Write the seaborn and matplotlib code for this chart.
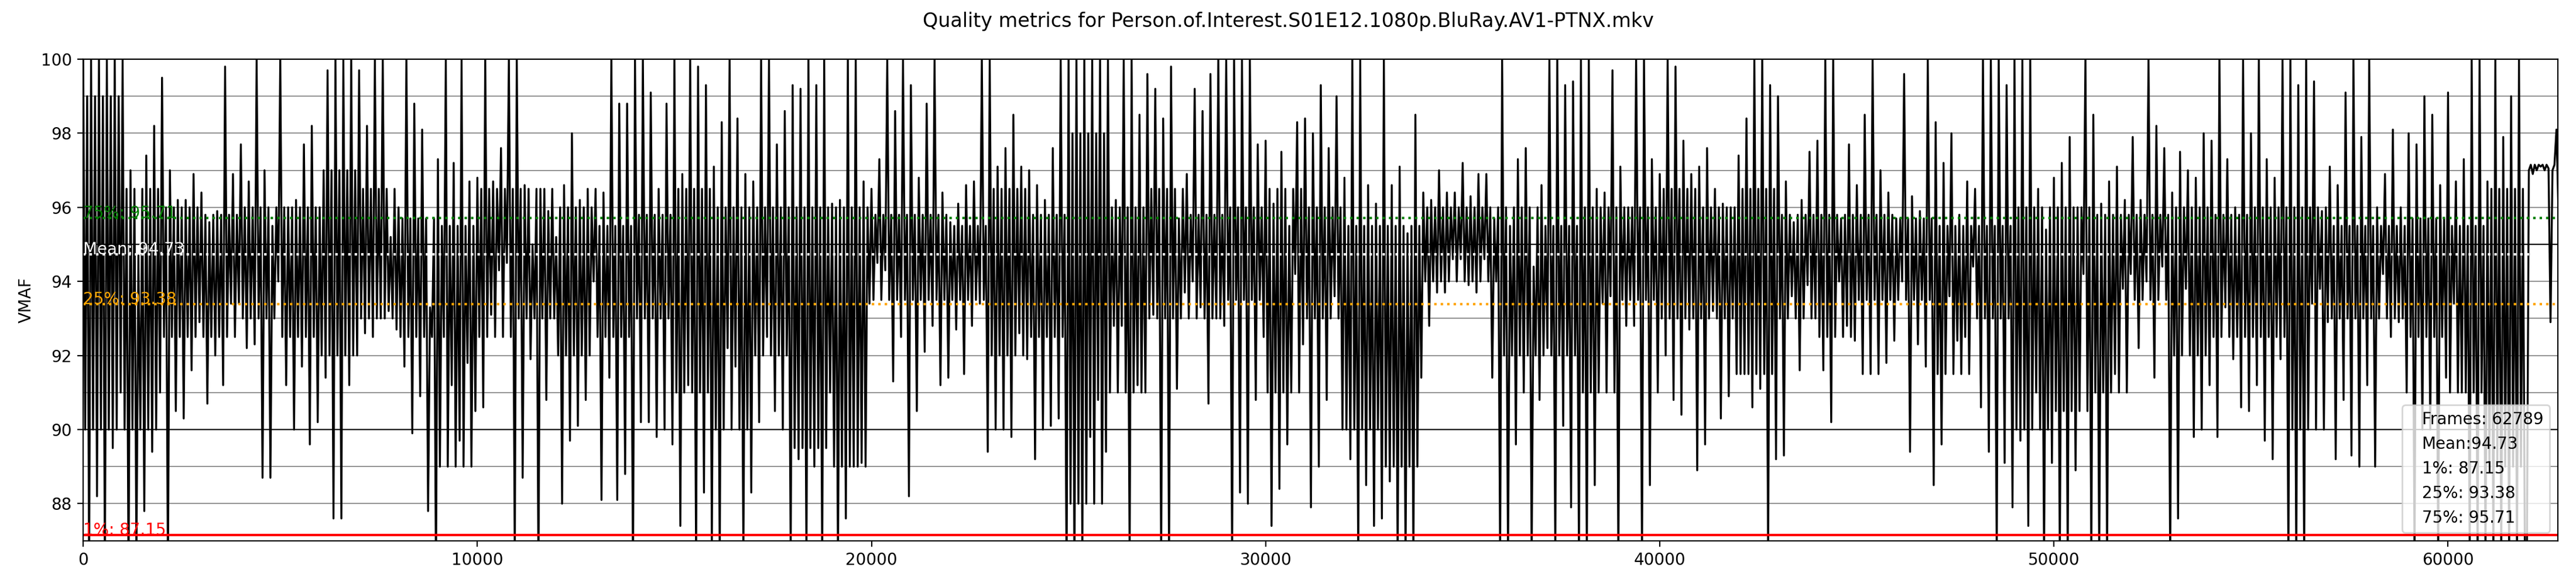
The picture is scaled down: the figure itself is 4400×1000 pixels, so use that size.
import numpy as np
import pandas as pd
import seaborn as sns
import matplotlib
matplotlib.use('Agg')
import matplotlib.pyplot as plt
from matplotlib.ticker import MultipleLocator

# Dati
file_name = "Person.of.Interest.S01E12.1080p.BluRay.AV1-PTNX.mkv"
total_frames = 62789
bin_frames = 200    # ogni blocco di 200 frame: picco e minimo
chunk_frames = 1000  # fascia "densa" letta ogni 1000 frame

# picco / minimo di ogni blocco da 200 frame, per tratti di ~8000 frame
vmaf_0k = [100, 86, 100, 88.2, 100, 86, 100, 89.5, 100, 91, 100, 86, 97, 86.5, 94.7, 87.8, 97.4, 89.4, 98.2, 91,
           99.5, 86, 97, 90.5, 96.2, 90.3, 96.2, 91.6, 96.9, 92.9, 96.4, 90.7, 95.6, 92, 95.9, 91.2, 99.8, 93.4, 96.9, 93.4,
           97.7, 92.2, 96.7, 92.3, 100, 88.7, 97, 88.7, 95.5, 94, 100, 91.2, 96, 90, 96.2, 91.7, 97.7, 89.6, 98.2, 90.2,
           96, 91.4, 99.7, 87.6, 100, 87.6, 100, 91.2, 100, 92, 99.7, 92.6, 98.2, 92.5, 100, 93, 100, 93.2, 95.2, 92.7]
vmaf_8k = [96, 91.7, 100, 89.9, 98.8, 90.9, 98.1, 87.8, 93.3, 86, 97.3, 92.5, 100, 91.2, 97.2, 89.7, 100, 91.8, 96.7, 90.5,
           96.8, 90.6, 100, 93.1, 96.7, 94.3, 97.6, 94.5, 100, 86.5, 100, 88.7, 96.6, 91.9, 95, 86, 96.5, 90.8, 95.9, 93,
           95.2, 88, 96.6, 89.7, 98, 90.1, 96.2, 90.8, 96.5, 94, 96.5, 88.1, 96.4, 91.4, 100, 88.1, 98.8, 88.8, 98.8, 86,
           100, 90.2, 100, 90.2, 99.1, 89.8, 96.5, 90, 98.8, 89.6, 100, 87.4, 96.9, 91.2, 100, 86.5, 99.8, 88.3, 99.3, 87]
vmaf_16k = [97.1, 86.5, 98.3, 92.2, 100, 91.7, 98.4, 86.5, 96.9, 88.3, 96.7, 90.2, 100, 92.5, 100, 90.5, 97.7, 90, 98.6, 86.5,
            99.3, 89.2, 99.2, 86.5, 100, 89, 99.3, 86.5, 100, 91, 96.1, 86.5, 96.2, 87.6, 100, 89, 100, 89.1, 96.7, 93.4,
            96.5, 94.5, 97.3, 94.3, 100, 91.3, 98.6, 92.5, 100, 88.2, 99.3, 90.5, 96.8, 92.1, 98.8, 92.8, 100, 91.2, 96.4, 91.4,
            95.6, 92.7, 96.1, 91.5, 96.6, 92.8, 96.7, 93.4, 100, 89.4, 100, 90, 97.1, 90, 97.6, 89.8, 98.5, 92.6, 97.1, 91.9]
vmaf_24k = [97, 89.2, 96.6, 90, 96.2, 90.1, 97.6, 90.3, 100, 86, 100, 86, 100, 86.5, 100, 89.8, 100, 90.8, 100, 89.4,
            100, 92.8, 96.2, 92.8, 100, 86.5, 100, 91.2, 98.5, 91, 99.6, 93.1, 99.2, 86.5, 98.4, 86.5, 99.8, 91.1, 95.7, 93.7,
            96.9, 94, 99.2, 93.3, 98.6, 90.7, 99.6, 93, 100, 92.8, 100, 86.5, 100, 88.3, 100, 88, 100, 90.8, 97.7, 92.5,
            97.8, 87.4, 96.1, 88.4, 97.5, 89.6, 95.5, 94.2, 98.3, 92.3, 98.4, 87.9, 98, 89, 99.3, 90.8, 97.6, 93.6, 99, 90]
vmaf_32k = [96.8, 89.2, 100, 86.5, 100, 88.5, 96.6, 87.4, 96.1, 87.6, 100, 88.6, 96.6, 86.5, 97.1, 86.5, 95.3, 86.5, 98.5, 91.4,
            96.4, 92.8, 96.2, 93.7, 97, 93.7, 96.4, 94.6, 96.4, 94.6, 97.2, 93.9, 96.3, 93.7, 96.9, 94.6, 96.9, 91.4, 95.7, 86.5,
            100, 86.5, 95.5, 89.6, 97.3, 91, 97.6, 86.5, 94.4, 90.8, 96.6, 92.2, 100, 86.5, 100, 90.1, 99.3, 87.9, 99.4, 86.5,
            100, 86.5, 100, 88.5, 96.5, 93.4, 96.4, 93.6, 99.7, 86.5, 97.1, 92.8, 96, 92.8, 100, 86.5, 100, 88.5, 97.3, 91]
vmaf_40k = [96.9, 92, 100, 90.8, 99.8, 90.4, 97.8, 92.7, 96.9, 88.9, 97.1, 89.6, 97.6, 93.2, 96.5, 90.3, 96.1, 90.9, 96, 91.5,
            97.4, 91.5, 98.4, 90.6, 100, 91.1, 100, 86.5, 99.3, 89.2, 99, 89.3, 96.7, 93.6, 95.6, 91.6, 96.2, 93.9, 97.5, 93,
            97.8, 91.6, 100, 90.2, 100, 94, 95.7, 92.8, 97.7, 92.4, 96.6, 91.5, 98.5, 91.5, 100, 91.5, 97, 91.8, 96.4, 92.4,
            95.7, 94, 99.6, 89.4, 96.3, 92.3, 95.9, 91.7, 100, 88.5, 98.3, 89.6, 97.2, 93.6, 98, 92.4, 95.8, 92.5, 96.7, 94.4]
vmaf_48k = [96.5, 90.6, 100, 89.4, 100, 86.5, 100, 89.1, 99.3, 87.9, 100, 89.7, 100, 87.4, 100, 91, 96.5, 86.5, 95.4, 89.1,
            96.8, 86.5, 97.2, 86.5, 97.9, 88.9, 96, 94.2, 100, 86.5, 98.5, 86.5, 96.1, 86.5, 96.7, 91.5, 97.1, 93.8, 96.2, 94.2,
            97.9, 92.2, 96.2, 94, 100, 91.4, 98.2, 94.4, 97.6, 86.5, 96.4, 87.6, 97.5, 93.8, 97, 89.8, 96.8, 90, 98, 91.2,
            97.8, 89.8, 100, 93.3, 97.3, 91.9, 96, 90.6, 100, 90.5, 98, 91.2, 100, 89.7, 97.3, 89.2, 96.8, 91.9, 100, 86.5]
vmaf_56k = [100, 86.5, 99.3, 86.5, 100, 93.4, 99.4, 93.8, 95.9, 92.9, 97.1, 89.2, 96.6, 90.8, 99.1, 89.3, 100, 89, 97.9, 91.2,
            100, 89, 96, 94.2, 96.9, 92.5, 98.1, 92.9, 96, 91, 98, 86.5, 97.7, 90, 99, 90, 98.5, 86.5, 96.6, 91.4,
            99.1, 93.4, 96.7, 91, 97.3, 86.5, 100, 86.5, 100, 86.5, 96.7, 86.5, 100, 86.5, 97.9, 86.5, 99, 86.5, 100, 86.5,
            86.5, 96.9, 97.15, 97.1, 97.15, 97.05, 92.9, 98.1]
vmaf_last = 96.0

# fascia densa (basso / alto) ogni 1000 frame
core_lo = [90, 90, 92.5, 92.5, 93, 92.5, 92, 93,
           92.5, 89, 92.5, 93, 92, 92.5, 93, 91,
           90, 92, 89.5, 89, 93.5, 93.5, 93.5, 92,
           92.5, 88, 91, 93, 93, 93.5, 91, 93,
           90, 89, 94, 94, 92, 92, 91, 93.5,
           93, 93, 91.5, 93, 92.5, 93.5, 93.5, 91.5,
           93, 90, 90.5, 91, 93.5, 92, 92.5, 92.5,
           90, 93, 93, 92.5, 91, 89, 97.0]
core_hi = [99, 96.5, 96, 95.8, 96, 96, 97, 96.5,
           95.7, 95.5, 96.5, 96.5, 96, 95.5, 95.8, 96.5,
           96, 96, 96, 96, 95.8, 95.8, 95.5, 96.5,
           95.8, 98, 96, 96.5, 95.8, 96, 96.5, 96,
           95.5, 95.5, 96, 96, 96, 95.5, 96, 96,
           96.5, 96, 96.5, 95.8, 95.8, 95.8, 95.7, 95.5,
           95.5, 96, 96, 95.8, 95.8, 96, 95.8, 96,
           96, 95.5, 95.5, 95.7, 95.5, 96.5, 97.15]

# mean e percentili riportati nel grafico
mean_vmaf = 94.73
p1 = 87.15
p25 = 93.38
p75 = 95.71

# costruzione della serie: picco, fascia bassa, fascia alta, minimo per ogni blocco
extremes = np.array(vmaf_0k + vmaf_8k + vmaf_16k + vmaf_24k + vmaf_32k + vmaf_40k + vmaf_48k + vmaf_56k).reshape(-1, 2)
samples = []
for i, (first, second) in enumerate(extremes):
    c = i * bin_frames // chunk_frames
    samples += [first, core_lo[c], core_hi[c], second]
samples.append(vmaf_last)
sample_step = bin_frames // 4
df = pd.DataFrame({'frame': np.arange(len(samples)) * sample_step, 'vmaf': samples})

fig, ax = plt.subplots(figsize=(22, 5), dpi=200)
fig.subplots_adjust(left=0.0323, right=0.993, top=0.899, bottom=0.0773)

# griglia orizzontale
ax.yaxis.set_minor_locator(MultipleLocator(1))
ax.tick_params(axis='y', which='minor', length=0)
ax.grid(axis='y', which='both', color='gray', linewidth=0.6)
ax.axhline(90, color='black', linewidth=0.8)
ax.axhline(95, color='black', linewidth=0.8)

sns.lineplot(data=df, x='frame', y='vmaf', color='black', linewidth=1.2, estimator=None, ax=ax)

# linee delle statistiche
ax.axhline(p1, color='red', linewidth=1.5)
ax.axhline(p25, color='orange', linestyle=':', linewidth=1.5)
ax.axhline(mean_vmaf, color='white', linestyle=':', linewidth=1.5)
ax.axhline(p75, color='green', linestyle=':', linewidth=1.5)
ax.text(0, p1, f'1%: {p1}', color='red')
ax.text(0, p25, f'25%: {p25}', color='orange')
ax.text(0, mean_vmaf, f'Mean: {mean_vmaf}', color='white')
ax.text(0, p75, f'75%: {p75}', color='green')

# legenda con sole etichette
ax.plot([], [], ' ', label=f'Frames: {total_frames}')
ax.plot([], [], ' ', label=f'Mean:{mean_vmaf}')
ax.plot([], [], ' ', label=f'1%: {p1}')
ax.plot([], [], ' ', label=f'25%: {p25}')
ax.plot([], [], ' ', label=f'75%: {p75}')
ax.legend(loc='lower right', handlelength=0, handletextpad=0.8)

ax.set_xlim(0, total_frames)
ax.set_ylim(87, 100)
ax.set_xlabel('')
ax.set_ylabel('VMAF')
fig.suptitle(f'Quality metrics for {file_name}')

fig.savefig('out.png', dpi=200)
